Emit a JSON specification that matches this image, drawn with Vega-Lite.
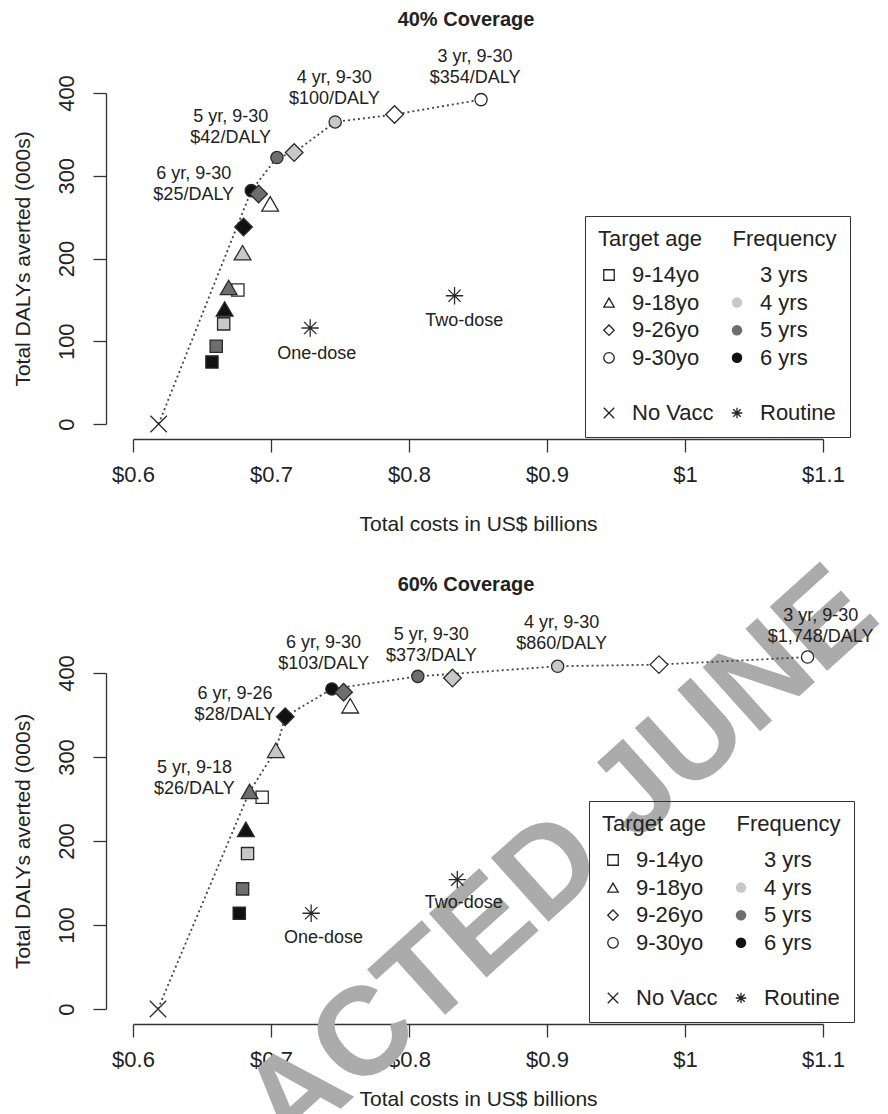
{
  "$schema": "https://vega.github.io/schema/vega-lite/v6.json",
  "padding": {"left": 12, "top": 9, "right": 0, "bottom": 0},
  "bounds": "flush",
  "spacing": 249,
  "config": {
    "font": "Liberation Sans",
    "view": {"stroke": null},
    "axis": {"grid": false, "domainColor": "#333", "tickColor": "#333", "labelColor": "#222", "titleColor": "#222", "labelFontSize": 22, "titleFontSize": 21, "titleFontWeight": "normal", "tickSize": 13, "domainWidth": 1.3, "tickWidth": 1.3, "labelFlush": false, "labelOverlap": false}
  },
  "resolve": {"scale": {"shape": "independent", "fill": "independent", "stroke": "independent", "size": "independent"}},
  "datasets": {
    "keys": [
      {"age": "9-14yo", "freq": "9-14yo"},
      {"age": "9-18yo", "freq": "9-18yo"},
      {"age": "9-26yo", "freq": "9-26yo"},
      {"age": "9-30yo", "freq": "9-30yo"},
      {"age": "\u00a0", "freq": "\u00a0"},
      {"age": "No Vacc", "freq": "No Vacc"},
      {"age": "3 yrs", "freq": "3 yrs"},
      {"age": "4 yrs", "freq": "4 yrs"},
      {"age": "5 yrs", "freq": "5 yrs"},
      {"age": "6 yrs", "freq": "6 yrs"},
      {"age": "\u00a0\u00a0", "freq": "\u00a0\u00a0"},
      {"age": "Routine", "freq": "Routine"}
    ],
    "wm": [
      {"wx": 0.91, "wy": 178, "wt": "ACTED JUNE"}
    ],
    "pts40": [
      {"cost": 0.6186, "dalys": 0, "age": "No Vacc", "freq": "No Vacc", "front": 1},
      {"cost": 0.6572, "dalys": 75, "age": "9-14yo", "freq": "6 yrs", "front": 0},
      {"cost": 0.6603, "dalys": 94, "age": "9-14yo", "freq": "5 yrs", "front": 0},
      {"cost": 0.6657, "dalys": 121, "age": "9-14yo", "freq": "4 yrs", "front": 0},
      {"cost": 0.676, "dalys": 162, "age": "9-14yo", "freq": "3 yrs", "front": 0},
      {"cost": 0.6664, "dalys": 139, "age": "9-18yo", "freq": "6 yrs", "front": 0},
      {"cost": 0.6693, "dalys": 165, "age": "9-18yo", "freq": "5 yrs", "front": 0},
      {"cost": 0.6794, "dalys": 207, "age": "9-18yo", "freq": "4 yrs", "front": 0},
      {"cost": 0.6994, "dalys": 266, "age": "9-18yo", "freq": "3 yrs", "front": 0},
      {"cost": 0.6857, "dalys": 282, "age": "9-30yo", "freq": "6 yrs", "front": 1},
      {"cost": 0.7043, "dalys": 322, "age": "9-30yo", "freq": "5 yrs", "front": 1},
      {"cost": 0.7465, "dalys": 365, "age": "9-30yo", "freq": "4 yrs", "front": 1},
      {"cost": 0.8522, "dalys": 392, "age": "9-30yo", "freq": "3 yrs", "front": 1},
      {"cost": 0.6801, "dalys": 238, "age": "9-26yo", "freq": "6 yrs", "front": 0},
      {"cost": 0.691, "dalys": 278, "age": "9-26yo", "freq": "5 yrs", "front": 0},
      {"cost": 0.7168, "dalys": 328, "age": "9-26yo", "freq": "4 yrs", "front": 1},
      {"cost": 0.7895, "dalys": 374, "age": "9-26yo", "freq": "3 yrs", "front": 1},
      {"cost": 0.7284, "dalys": 116, "age": "Routine", "freq": "Routine", "front": 0},
      {"cost": 0.833, "dalys": 155, "age": "Routine", "freq": "Routine", "front": 0}
    ],
    "pts60": [
      {"cost": 0.6181, "dalys": 0, "age": "No Vacc", "freq": "No Vacc", "front": 1},
      {"cost": 0.677, "dalys": 114, "age": "9-14yo", "freq": "6 yrs", "front": 0},
      {"cost": 0.6794, "dalys": 143, "age": "9-14yo", "freq": "5 yrs", "front": 0},
      {"cost": 0.683, "dalys": 185, "age": "9-14yo", "freq": "4 yrs", "front": 0},
      {"cost": 0.6936, "dalys": 252, "age": "9-14yo", "freq": "3 yrs", "front": 0},
      {"cost": 0.6818, "dalys": 214, "age": "9-18yo", "freq": "6 yrs", "front": 0},
      {"cost": 0.6845, "dalys": 259, "age": "9-18yo", "freq": "5 yrs", "front": 1},
      {"cost": 0.7035, "dalys": 308, "age": "9-18yo", "freq": "4 yrs", "front": 1},
      {"cost": 0.7574, "dalys": 361, "age": "9-18yo", "freq": "3 yrs", "front": 0},
      {"cost": 0.7441, "dalys": 381, "age": "9-30yo", "freq": "6 yrs", "front": 1},
      {"cost": 0.8064, "dalys": 396, "age": "9-30yo", "freq": "5 yrs", "front": 1},
      {"cost": 0.9077, "dalys": 408, "age": "9-30yo", "freq": "4 yrs", "front": 1},
      {"cost": 1.0888, "dalys": 419, "age": "9-30yo", "freq": "3 yrs", "front": 1},
      {"cost": 0.7103, "dalys": 348, "age": "9-26yo", "freq": "6 yrs", "front": 1},
      {"cost": 0.7526, "dalys": 377, "age": "9-26yo", "freq": "5 yrs", "front": 0},
      {"cost": 0.8315, "dalys": 394, "age": "9-26yo", "freq": "4 yrs", "front": 0},
      {"cost": 0.9811, "dalys": 410, "age": "9-26yo", "freq": "3 yrs", "front": 1},
      {"cost": 0.7291, "dalys": 114, "age": "Routine", "freq": "Routine", "front": 0},
      {"cost": 0.835, "dalys": 154, "age": "Routine", "freq": "Routine", "front": 0}
    ],
    "lab40": [
      {"lx": 0.644, "ly": 302.7, "txt": "6 yr, 9-30\n$25/DALY"},
      {"lx": 0.6708, "ly": 371.3, "txt": "5 yr, 9-30\n$42/DALY"},
      {"lx": 0.7459, "ly": 418.7, "txt": "4 yr, 9-30\n$100/DALY"},
      {"lx": 0.8479, "ly": 443.7, "txt": "3 yr, 9-30\n$354/DALY"},
      {"lx": 0.7332, "ly": 85, "txt": "One-dose"},
      {"lx": 0.84, "ly": 125, "txt": "Two-dose"}
    ],
    "lab60": [
      {"lx": 0.7381, "ly": 435.5, "txt": "6 yr, 9-30\n$103/DALY"},
      {"lx": 0.6739, "ly": 374.5, "txt": "6 yr, 9-26\n$28/DALY"},
      {"lx": 0.6445, "ly": 286.5, "txt": "5 yr, 9-18\n$26/DALY"},
      {"lx": 0.8162, "ly": 445.5, "txt": "5 yr, 9-30\n$373/DALY"},
      {"lx": 0.9106, "ly": 459.5, "txt": "4 yr, 9-30\n$860/DALY"},
      {"lx": 1.0983, "ly": 467.5, "txt": "3 yr, 9-30\n$1,748/DALY"},
      {"lx": 0.738, "ly": 85, "txt": "One-dose"},
      {"lx": 0.8397, "ly": 126, "txt": "Two-dose"}
    ]
  },
  "vconcat": [
    {
      "title": {"text": "40% Coverage", "fontSize": 20, "fontWeight": "bold", "frame": "group", "anchor": "middle", "offset": 18, "dx": -12, "color": "#222"},
      "width": 690,
      "height": 331,
      "layer": [
        {
          "data": {"name": "pts40"},
          "transform": [{"filter": "datum.front == 1"}],
          "mark": {"type": "line", "strokeDash": [2, 3], "color": "#444", "strokeWidth": 1.8},
          "encoding": {
            "x": {"field": "cost", "type": "quantitative", "scale": {"domain": [0.6, 1.1], "nice": false, "zero": false}, "axis": {"title": "Total costs in US$ billions", "values": [0.6, 0.7, 0.8, 0.9, 1, 1.1], "format": "$~g", "offset": 15, "labelPadding": 12, "titlePadding": 28}},
            "y": {"field": "dalys", "type": "quantitative", "scale": {"domain": [0, 400], "nice": false, "zero": false}, "axis": {"title": "Total DALYs averted (000s)", "values": [0, 100, 200, 300, 400], "offset": 27, "labelAngle": -90, "labelAlign": "center", "labelBaseline": "bottom", "labelPadding": 15, "titlePadding": 22}}
          }
        },
        {
          "data": {"name": "keys"},
          "mark": {"type": "point", "filled": true, "opacity": 1, "strokeWidth": 1.3},
          "encoding": {
            "x": {"field": "cost", "type": "quantitative"},
            "y": {"field": "dalys", "type": "quantitative"},
            "shape": {"field": "age", "type": "nominal", "scale": {"domain": ["9-14yo", "9-18yo", "9-26yo", "9-30yo", "\u00a0", "No Vacc", "3 yrs", "4 yrs", "5 yrs", "6 yrs", "\u00a0\u00a0", "Routine"], "range": ["square", "triangle-up", "diamond", "circle", "circle", "M-1,-1L1,1M-1,1L1,-1", "circle", "circle", "circle", "circle", "circle", "M0,-1L0,1M-1,0L1,0M-0.71,-0.71L0.71,0.71M-0.71,0.71L0.71,-0.71"]},
              "legend": {"title": "Target age\u00a0\u00a0\u00a0\u00a0\u00a0Frequency", "orient": "none", "legendX": 452, "legendY": 123, "columns": 2, "columnPadding": 12, "rowPadding": 5.6, "padding": 13, "strokeColor": "#333", "labelFontSize": 22, "titleFontSize": 22, "titleFontWeight": "normal", "titlePadding": 13, "symbolSize": 110, "symbolStrokeWidth": 1.3, "labelOffset": 12, "symbolFillColor": "transparent", "symbolStrokeColor": "black", "labelColor": "#222", "titleColor": "#222", "titleLimit": 400, "labelLimit": 200}},
            "fill": {"field": "freq", "type": "nominal", "scale": {"domain": ["9-14yo", "9-18yo", "9-26yo", "9-30yo", "\u00a0", "No Vacc", "3 yrs", "4 yrs", "5 yrs", "6 yrs", "\u00a0\u00a0", "Routine"], "range": ["transparent", "transparent", "transparent", "transparent", "transparent", "transparent", "white", "#c8c8c8", "#6e6e6e", "#111111", "transparent", "transparent"]},
              "legend": {"title": "Target age\u00a0\u00a0\u00a0\u00a0\u00a0Frequency", "orient": "none", "legendX": 452, "legendY": 123, "columns": 2, "columnPadding": 12, "rowPadding": 5.6, "padding": 13, "strokeColor": "#333", "labelFontSize": 22, "titleFontSize": 22, "titleFontWeight": "normal", "titlePadding": 13, "symbolSize": 110, "symbolStrokeWidth": 1.3, "labelOffset": 12, "symbolFillColor": "transparent", "symbolStrokeColor": "black", "labelColor": "#222", "titleColor": "#222", "titleLimit": 400, "labelLimit": 200}},
            "stroke": {"field": "age", "type": "nominal", "scale": {"domain": ["9-14yo", "9-18yo", "9-26yo", "9-30yo", "\u00a0", "No Vacc", "3 yrs", "4 yrs", "5 yrs", "6 yrs", "\u00a0\u00a0", "Routine"], "range": ["#222222", "#222222", "#222222", "#222222", "transparent", "#222222", "transparent", "transparent", "transparent", "transparent", "transparent", "#222222"]},
              "legend": {"title": "Target age\u00a0\u00a0\u00a0\u00a0\u00a0Frequency", "orient": "none", "legendX": 452, "legendY": 123, "columns": 2, "columnPadding": 12, "rowPadding": 5.6, "padding": 13, "strokeColor": "#333", "labelFontSize": 22, "titleFontSize": 22, "titleFontWeight": "normal", "titlePadding": 13, "symbolSize": 110, "symbolStrokeWidth": 1.3, "labelOffset": 12, "symbolFillColor": "transparent", "symbolStrokeColor": "black", "labelColor": "#222", "titleColor": "#222", "titleLimit": 400, "labelLimit": 200}}
          }
        },
        {
          "data": {"name": "pts40"},
          "mark": {"type": "point", "filled": true, "opacity": 1, "stroke": "#2a2a2a", "strokeWidth": 1.3},
          "encoding": {
            "x": {"field": "cost", "type": "quantitative"},
            "y": {"field": "dalys", "type": "quantitative"},
            "shape": {"field": "age", "type": "nominal", "scale": {"domain": ["9-14yo", "9-18yo", "9-26yo", "9-30yo", "\u00a0", "No Vacc", "3 yrs", "4 yrs", "5 yrs", "6 yrs", "\u00a0\u00a0", "Routine"], "range": ["square", "triangle-up", "diamond", "circle", "circle", "M-1,-1L1,1M-1,1L1,-1", "circle", "circle", "circle", "circle", "circle", "M0,-1L0,1M-1,0L1,0M-0.71,-0.71L0.71,0.71M-0.71,0.71L0.71,-0.71"]}, "legend": null},
            "fill": {"field": "freq", "type": "nominal", "scale": {"domain": ["9-14yo", "9-18yo", "9-26yo", "9-30yo", "\u00a0", "No Vacc", "3 yrs", "4 yrs", "5 yrs", "6 yrs", "\u00a0\u00a0", "Routine"], "range": ["transparent", "transparent", "transparent", "transparent", "transparent", "transparent", "white", "#c8c8c8", "#6e6e6e", "#111111", "transparent", "transparent"]}, "legend": null},
            "size": {"field": "age", "type": "ordinal", "scale": {"type": "ordinal", "domain": ["9-14yo", "9-18yo", "9-26yo", "9-30yo", "No Vacc", "Routine"], "range": [150, 280, 310, 150, 270, 300]}, "legend": null}
          }
        },
        {
          "data": {"name": "lab40"},
          "mark": {"type": "text", "fontSize": 18, "lineBreak": "\n", "lineHeight": 21, "color": "#222", "align": "center", "baseline": "middle"},
          "encoding": {
            "x": {"field": "lx", "type": "quantitative"},
            "y": {"field": "ly", "type": "quantitative"},
            "text": {"field": "txt", "type": "nominal"}
          }
        }
      ]
    },
    {
      "title": {"text": "60% Coverage", "fontSize": 20, "fontWeight": "bold", "frame": "group", "anchor": "middle", "offset": -49, "dx": -12, "color": "#222"},
      "width": 690,
      "height": 336,
      "layer": [
        {
          "data": {"name": "wm"},
          "mark": {"type": "text", "fontSize": 125, "fontWeight": "bold", "angle": -42, "color": "#ababab", "align": "center", "baseline": "middle"},
          "encoding": {
            "x": {"field": "wx", "type": "quantitative"},
            "y": {"field": "wy", "type": "quantitative"},
            "text": {"field": "wt", "type": "nominal"}
          }
        },
        {
          "data": {"name": "pts60"},
          "transform": [{"filter": "datum.front == 1"}],
          "mark": {"type": "line", "strokeDash": [2, 3], "color": "#444", "strokeWidth": 1.8},
          "encoding": {
            "x": {"field": "cost", "type": "quantitative", "scale": {"domain": [0.6, 1.1], "nice": false, "zero": false}, "axis": {"title": "Total costs in US$ billions", "values": [0.6, 0.7, 0.8, 0.9, 1, 1.1], "format": "$~g", "offset": 15, "labelPadding": 12, "titlePadding": 18}},
            "y": {"field": "dalys", "type": "quantitative", "scale": {"domain": [0, 400], "nice": false, "zero": false}, "axis": {"title": "Total DALYs averted (000s)", "values": [0, 100, 200, 300, 400], "offset": 27, "labelAngle": -90, "labelAlign": "center", "labelBaseline": "bottom", "labelPadding": 15, "titlePadding": 22}}
          }
        },
        {
          "data": {"name": "keys"},
          "mark": {"type": "point", "filled": true, "opacity": 1, "strokeWidth": 1.3},
          "encoding": {
            "x": {"field": "cost", "type": "quantitative"},
            "y": {"field": "dalys", "type": "quantitative"},
            "shape": {"field": "age", "type": "nominal", "scale": {"domain": ["9-14yo", "9-18yo", "9-26yo", "9-30yo", "\u00a0", "No Vacc", "3 yrs", "4 yrs", "5 yrs", "6 yrs", "\u00a0\u00a0", "Routine"], "range": ["square", "triangle-up", "diamond", "circle", "circle", "M-1,-1L1,1M-1,1L1,-1", "circle", "circle", "circle", "circle", "circle", "M0,-1L0,1M-1,0L1,0M-0.71,-0.71L0.71,0.71M-0.71,0.71L0.71,-0.71"]},
              "legend": {"title": "Target age\u00a0\u00a0\u00a0\u00a0\u00a0Frequency", "orient": "none", "legendX": 456, "legendY": 128, "columns": 2, "columnPadding": 12, "rowPadding": 5.6, "padding": 13, "strokeColor": "#333", "labelFontSize": 22, "titleFontSize": 22, "titleFontWeight": "normal", "titlePadding": 13, "symbolSize": 110, "symbolStrokeWidth": 1.3, "labelOffset": 12, "symbolFillColor": "transparent", "symbolStrokeColor": "black", "labelColor": "#222", "titleColor": "#222", "titleLimit": 400, "labelLimit": 200}},
            "fill": {"field": "freq", "type": "nominal", "scale": {"domain": ["9-14yo", "9-18yo", "9-26yo", "9-30yo", "\u00a0", "No Vacc", "3 yrs", "4 yrs", "5 yrs", "6 yrs", "\u00a0\u00a0", "Routine"], "range": ["transparent", "transparent", "transparent", "transparent", "transparent", "transparent", "white", "#c8c8c8", "#6e6e6e", "#111111", "transparent", "transparent"]},
              "legend": {"title": "Target age\u00a0\u00a0\u00a0\u00a0\u00a0Frequency", "orient": "none", "legendX": 456, "legendY": 128, "columns": 2, "columnPadding": 12, "rowPadding": 5.6, "padding": 13, "strokeColor": "#333", "labelFontSize": 22, "titleFontSize": 22, "titleFontWeight": "normal", "titlePadding": 13, "symbolSize": 110, "symbolStrokeWidth": 1.3, "labelOffset": 12, "symbolFillColor": "transparent", "symbolStrokeColor": "black", "labelColor": "#222", "titleColor": "#222", "titleLimit": 400, "labelLimit": 200}},
            "stroke": {"field": "age", "type": "nominal", "scale": {"domain": ["9-14yo", "9-18yo", "9-26yo", "9-30yo", "\u00a0", "No Vacc", "3 yrs", "4 yrs", "5 yrs", "6 yrs", "\u00a0\u00a0", "Routine"], "range": ["#222222", "#222222", "#222222", "#222222", "transparent", "#222222", "transparent", "transparent", "transparent", "transparent", "transparent", "#222222"]},
              "legend": {"title": "Target age\u00a0\u00a0\u00a0\u00a0\u00a0Frequency", "orient": "none", "legendX": 456, "legendY": 128, "columns": 2, "columnPadding": 12, "rowPadding": 5.6, "padding": 13, "strokeColor": "#333", "labelFontSize": 22, "titleFontSize": 22, "titleFontWeight": "normal", "titlePadding": 13, "symbolSize": 110, "symbolStrokeWidth": 1.3, "labelOffset": 12, "symbolFillColor": "transparent", "symbolStrokeColor": "black", "labelColor": "#222", "titleColor": "#222", "titleLimit": 400, "labelLimit": 200}}
          }
        },
        {
          "data": {"name": "pts60"},
          "mark": {"type": "point", "filled": true, "opacity": 1, "stroke": "#2a2a2a", "strokeWidth": 1.3},
          "encoding": {
            "x": {"field": "cost", "type": "quantitative"},
            "y": {"field": "dalys", "type": "quantitative"},
            "shape": {"field": "age", "type": "nominal", "scale": {"domain": ["9-14yo", "9-18yo", "9-26yo", "9-30yo", "\u00a0", "No Vacc", "3 yrs", "4 yrs", "5 yrs", "6 yrs", "\u00a0\u00a0", "Routine"], "range": ["square", "triangle-up", "diamond", "circle", "circle", "M-1,-1L1,1M-1,1L1,-1", "circle", "circle", "circle", "circle", "circle", "M0,-1L0,1M-1,0L1,0M-0.71,-0.71L0.71,0.71M-0.71,0.71L0.71,-0.71"]}, "legend": null},
            "fill": {"field": "freq", "type": "nominal", "scale": {"domain": ["9-14yo", "9-18yo", "9-26yo", "9-30yo", "\u00a0", "No Vacc", "3 yrs", "4 yrs", "5 yrs", "6 yrs", "\u00a0\u00a0", "Routine"], "range": ["transparent", "transparent", "transparent", "transparent", "transparent", "transparent", "white", "#c8c8c8", "#6e6e6e", "#111111", "transparent", "transparent"]}, "legend": null},
            "size": {"field": "age", "type": "ordinal", "scale": {"type": "ordinal", "domain": ["9-14yo", "9-18yo", "9-26yo", "9-30yo", "No Vacc", "Routine"], "range": [150, 280, 310, 150, 270, 300]}, "legend": null}
          }
        },
        {
          "data": {"name": "lab60"},
          "mark": {"type": "text", "fontSize": 18, "lineBreak": "\n", "lineHeight": 21, "color": "#222", "align": "center", "baseline": "middle"},
          "encoding": {
            "x": {"field": "lx", "type": "quantitative"},
            "y": {"field": "ly", "type": "quantitative"},
            "text": {"field": "txt", "type": "nominal"}
          }
        }
      ]
    }
  ]
}
